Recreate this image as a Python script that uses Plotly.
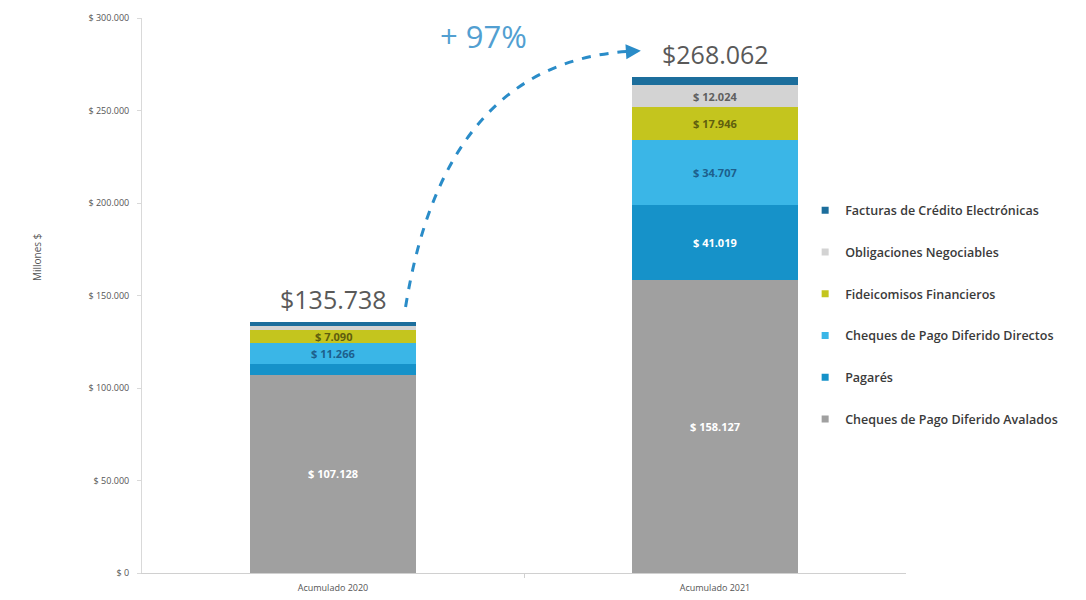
import plotly.graph_objects as go

# ---------------- data ----------------
categories = ["Acumulado 2020", "Acumulado 2021"]
x_pos = [0, 1]

series_names = [
    "Cheques de Pago Diferido Avalados",
    "Pagarés",
    "Cheques de Pago Diferido Directos",
    "Fideicomisos Financieros",
    "Obligaciones Negociables",
    "Facturas de Crédito Electrónicas",
]
avalados = [107128, 158127]
pagares = [5900, 41019]
directos = [11266, 34707]
fideicomisos = [7090, 17946]
obligaciones = [2400, 12024]
facturas = [1954, 4239]
totals = [135738, 268062]

series_values = [avalados, pagares, directos, fideicomisos, obligaciones, facturas]
series_colors = ["#a0a0a0", "#1692c9", "#3ab6e7", "#c4c51e", "#d3d3d3", "#1c6e9c"]

# which segments show a value label, and its colour
label_show = [
    [True, True],
    [False, True],
    [True, True],
    [True, True],
    [False, True],
    [False, False],
]
label_colors = ["#ffffff", "#ffffff", "#1d5f8c", "#5f5e0e", "#5f5f5f", "#ffffff"]

y_tickvals = [0, 50000, 100000, 150000, 200000, 250000, 300000]
y_ticktext = ["$ 0", "$ 50.000", "$ 100.000", "$ 150.000", "$ 200.000", "$ 250.000", "$ 300.000"]

growth_text = "+ 97%"
total_text = ["$135.738", "$268.062"]


def fmt(v):
    return "$ " + f"{v:,}".replace(",", ".")


FONT = "Open Sans, Roboto, sans-serif"
BAR_W = 0.435

fig = go.Figure()

for name, vals, col in zip(series_names, series_values, series_colors):
    fig.add_trace(go.Bar(
        x=x_pos, y=vals, name=name, marker=dict(color=col, line=dict(width=0)),
        width=BAR_W, showlegend=False, hoverinfo="skip",
    ))

# legend entries (top to bottom as in reference)
for i in reversed(range(len(series_names))):
    fig.add_trace(go.Scatter(
        x=[None], y=[None], mode="markers", name=series_names[i],
        legendgroup=series_names[i],
        marker=dict(symbol="square", size=7, color=series_colors[i]),
    ))

annotations = []
# segment labels
for ci in range(len(categories)):
    base = 0
    for si, vals in enumerate(series_values):
        v = vals[ci]
        if label_show[si][ci]:
            annotations.append(dict(
                x=x_pos[ci], y=base + v / 2, xref="x", yref="y", text=fmt(v),
                showarrow=False, font=dict(family=FONT, size=11, color=label_colors[si], weight="bold"),
            ))
        base += v

# totals
for ci in range(len(categories)):
    annotations.append(dict(
        x=x_pos[ci], y=totals[ci], xref="x", yref="y", text=total_text[ci],
        showarrow=False, yanchor="bottom", yshift=4,
        font=dict(family=FONT, size=25, color="#595959"),
    ))

# growth label
annotations.append(dict(
    x=0.395, y=totals[1] + 22000, xref="x", yref="y", text=growth_text,
    showarrow=False, font=dict(family=FONT, size=31, color="#529fd1"),
))

# y title
annotations.append(dict(
    x=-0.15, xref="paper", y=171000, yref="y", text="Millones $", textangle=-90,
    showarrow=False, font=dict(family=FONT, size=10, color="#555555"),
))

# dashed curved arrow
x0, y0 = 0.19, totals[0] + 8000
cx, cy = 0.293, totals[1] + 9200
x1, y1 = 0.785, totals[1] + 14000
fig.add_shape(type="path", xref="x", yref="y",
              path=f"M {x0},{y0} Q {cx},{cy} {x1},{y1}",
              line=dict(color="#2a8cc8", width=3, dash="dash"))
annotations.append(dict(
    x=0.806, y=y1 + 200, ax=0.775, ay=y1 - 200, xref="x", yref="y", axref="x", ayref="y",
    text="", showarrow=True, arrowhead=2, arrowsize=1, arrowwidth=3, arrowcolor="#2a8cc8",
))

fig.update_layout(
    width=1086, height=600,
    margin=dict(l=142, r=180, t=18, b=27),
    paper_bgcolor="white", plot_bgcolor="white",
    barmode="stack",
    font=dict(family=FONT, color="#555555"),
    annotations=annotations,
    showlegend=True,
    legend=dict(
        x=0.868, y=0.68, xanchor="left", yanchor="top",
        font=dict(family=FONT, size=12.5, color="#3a3a3a", weight=600),
        tracegroupgap=22.5, itemwidth=30, bgcolor="rgba(0,0,0,0)",
    ),
    xaxis=dict(
        range=[-0.5, 1.5], tickvals=x_pos, ticktext=categories, automargin=False,
        showgrid=False, zeroline=False, showline=True, linecolor="#d0d0d0", linewidth=1,
        ticks="", ticklabelstandoff=6, tickfont=dict(family=FONT, size=9, color="#555555"),
        minor=dict(tickmode="array", tickvals=[0.5], ticks="outside", ticklen=4, tickcolor="#d0d0d0"),
    ),
    yaxis=dict(
        range=[0, 300000], tickvals=y_tickvals, ticktext=y_ticktext, automargin=False,
        showgrid=False, zeroline=False, showline=True, linecolor="#d9d9d9", linewidth=1,
        ticks="outside", ticklen=4, tickcolor="#d9d9d9", ticklabelstandoff=6,
        tickfont=dict(family=FONT, size=9, color="#555555"),
    ),
)

fig.write_html("out.html")
